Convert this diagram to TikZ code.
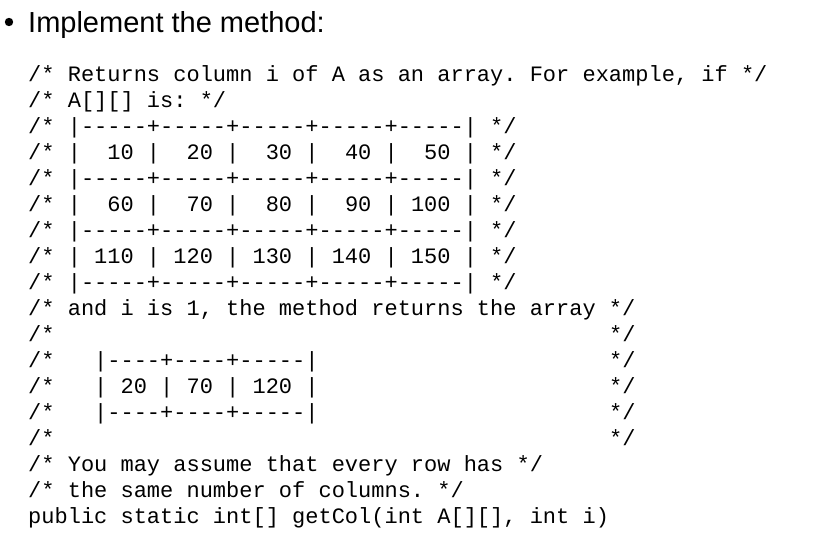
\documentclass[tikz,border=0pt]{standalone}
\usepackage{fontspec}
\setmainfont{Liberation Sans}
\setmonofont{Liberation Mono}
\begin{document}
\begin{tikzpicture}[x=1pt,y=1pt,
  codeline/.style={anchor=base west,inner sep=0pt,font=\ttfamily\fontsize{22}{26}\selectfont},
  title/.style={anchor=base west,inner sep=0pt,font=\fontsize{29}{33}\selectfont}]
\useasboundingbox[fill=white] (0,0) rectangle (828,-550);
\fill (9,-22) circle (4.2) coordinate (bul);
\node[title] (t) at (28,-32) {Implement the method:};
\foreach \k/\s in {
 0/{/*~Returns~column~i~of~A~as~an~array.~For~example,~if~*/},
 1/{/*~A[][]~is:~*/},
 2/{/*~|-----+-----+-----+-----+-----|~*/},
 3/{/*~|~~10~|~~20~|~~30~|~~40~|~~50~|~*/},
 4/{/*~|-----+-----+-----+-----+-----|~*/},
 5/{/*~|~~60~|~~70~|~~80~|~~90~|~100~|~*/},
 6/{/*~|-----+-----+-----+-----+-----|~*/},
 7/{/*~|~110~|~120~|~130~|~140~|~150~|~*/},
 8/{/*~|-----+-----+-----+-----+-----|~*/},
 9/{/*~and~i~is~1,~the~method~returns~the~array~*/},
 10/{/*~~~~~~~~~~~~~~~~~~~~~~~~~~~~~~~~~~~~~~~~~~*/},
 11/{/*~~~|----+----+-----|~~~~~~~~~~~~~~~~~~~~~~*/},
 12/{/*~~~|~20~|~70~|~120~|~~~~~~~~~~~~~~~~~~~~~~*/},
 13/{/*~~~|----+----+-----|~~~~~~~~~~~~~~~~~~~~~~*/},
 14/{/*~~~~~~~~~~~~~~~~~~~~~~~~~~~~~~~~~~~~~~~~~~*/},
 15/{/*~You~may~assume~that~every~row~has~*/},
 16/{/*~the~same~number~of~columns.~*/},
 17/{public~static~int[]~getCol(int~A[][],~int~i)}}
 {\node[codeline] (l\k) at (28,-81-26*\k) {\s};}
\end{tikzpicture}
\end{document}
